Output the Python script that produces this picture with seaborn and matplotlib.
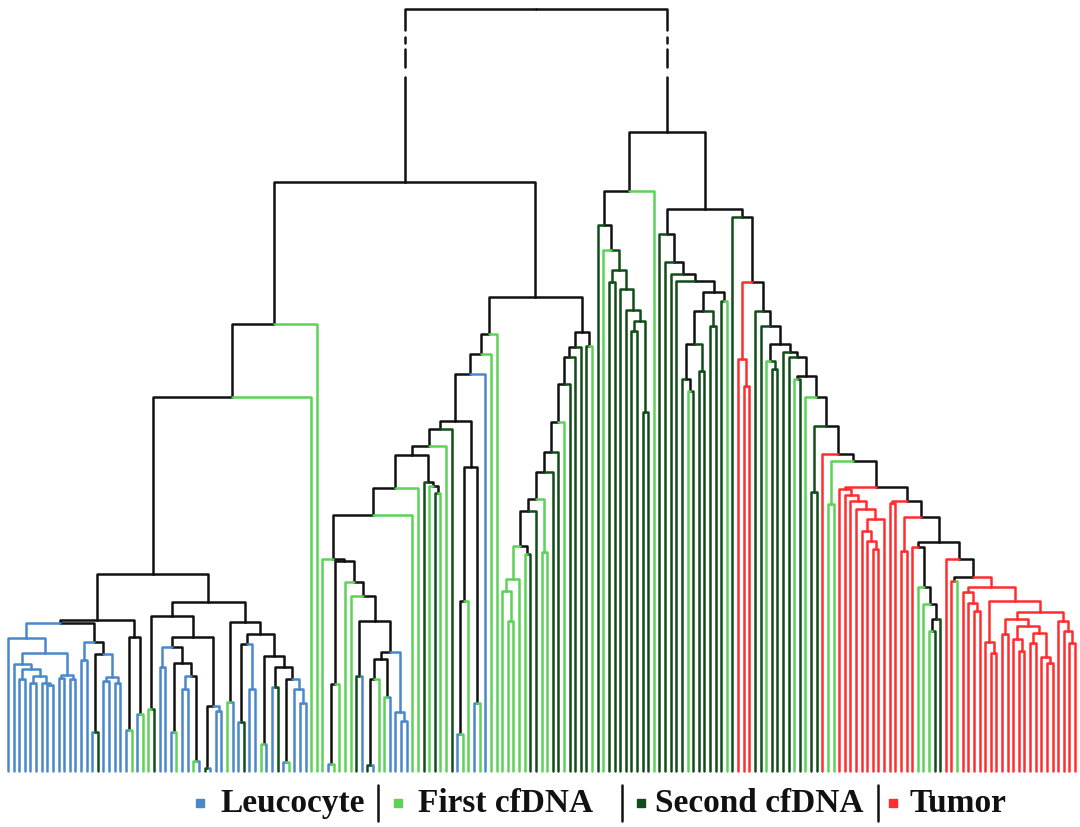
import matplotlib
matplotlib.use('Agg')
import matplotlib.pyplot as plt
import pandas as pd
import seaborn as sns
from matplotlib.lines import Line2D

# leaf classes: L = Leucocyte, F = First cfDNA, S = Second cfDNA, T = Tumor
# internal node = [height, left, right]; heights (pixels above the leaves)

leuco_b1 = [133, 'L', [118, [107, 'L', [102, [92, 'L', 'L'], [95, [88, 'L', 'L'], [88, 'L', [86, 'L', 'L']]]]],
                       [96, [93, 'L', 'L'], [92, 'L', 'L']]]]
leuco_a = [151, [148, leuco_b1, [129, [111, 'L', 'L'], [117, [39, 'L', 'S'], [94, [90, 'L', 'L'], [88, 'L', 'L']]]]],
           [134, [41, 'L', 'F'], [57, 'L', 'F']]]
leuco_b = [169,
           [155, [62, 'F', 'S'],
            [134, [124, [104, 'L', 'L'], [108, [39, 'L', 'F'], [95, [82, 'L', 'L'], [10, 'F', 'L']]]],
             [65, [3, 'S', 'L'], [60, 'L', 'L']]]],
           [149, [69, 'F', 'L'],
            [137, [127, [49, 'L', 'S'], [82, 'L', 'L']],
             [115, [27, 'F', 'L'], [104, [84, 'L', 'S'], [92, [9, 'L', 'F'], [82, 'L', [68, 'L', 'L']]]]]]]]
leuco = [197, leuco_a, leuco_b]

mid_j = [112, [92, [6, 'S', 'L'], 'F'], [74, 'F', 'L']]
mid_g = [150, [95, 'S', 'L'], [119, mid_j, [59, 'L', [50, 'L', 'L']]]]
mid_a = [212, 'F', [210, [87, [7, 'L', 'F'], 'F'], [189, 'F', [175, 'F', mid_g]]]]
mid_m8 = [283, [256, mid_a, 'F'], 'F']
mid_m9 = [289, 'S', [285, 'F', [278, 'S', 'F']]]
mid_m5 = [304, [170, [37, 'L', 'F'], 'F'], [68, 'L', 'F']]
mid = [437, [417, [397, [350, [342, [325, [316, mid_m8, mid_m9], 'F'], 'S'], mid_m5], 'L'], 'F'], 'F']

ladder = [439, [424, [414, [387, [349, [319, [299, [272, [260, [225, [192, [180, 'F', [150, 'F', 'F']], 'F'],
                                                                   [217, 'F', 'S']], 'S'], [219, 'F', 'F']],
                                                 'S'], 'S'], 'F'], 'S'], 'S'], 'S'], [425, 'S', 'F']]

right_a = [580, [546, 'S', [521, 'F', [501, [489, 'S', 'S'],
                                       [482, 'S', [461, 'S', [450, [440, 'S', 'S'], [359, 'S', 'S']]]]]]], 'F']
right_b1 = [537, 'S', [509, 'S', [497, 'S', [490, 'S', [479, [460, [427, [392, 'S', [380, 'F', 'S']], [400, 'S', 'S']],
                                                                [445, 'S', 'S']], [470, 'S', 'F']]]]]]

tumor_a = [282, 'T', [276, 'T', [270, 'T', [262, 'T', [252, [240, 'T', [230, 'T', [222, 'T', 'T']]], 'T']]]]]
mixed_g = [224, 'T', [184, 'F', [167, 'F', [152, [140, 'F', 'S'], 'S']]]]
tumor_b = [184, [179, 'T', [168, 'T', [160, 'T', 'T']]],
           [170, [129, 'T', [118, 'T', 'T']],
            [159, [152, [137, 'T', 'T'], [145, [132, 'T', [120, 'T', 'T']],
                                         [138, [128, 'T', 'T'], [114, 'T', [108, 'T', 'T']]]]],
             [150, 'T', [140, 'T', [128, 'T', 'T']]]]]]

# right-hand staircase: (merge height, branch that joins on the left)
stair_heights = [554, 489, 460, 445, 427, 419, 414, 395, 374, 345, 317, 310, 284, 270, 254, 229, 212, 194]
stair_branches = ['S', [412, 'T', [385, 'T', 'T']], 'S', 'S', [410, 'F', [402, 'S', 'S']], 'S', 'S',
                  [392, 'F', 'S'], 'F', [279, 'S', 'S'], 'T', [267, 'F', 'F'], tumor_a, [268, 'T', 'T'],
                  [220, 'T', 'T'], mixed_g, 'T', [190, 'T', 'F']]

right_b2 = tumor_b
for h, br in zip(reversed(stair_heights), reversed(stair_branches)):
    right_b2 = [h, br, right_b2]

root_height = 762
tree_data = [root_height,
             [589, [447, [374, leuco, 'F'], 'F'], [474, mid, ladder]],
             [639, right_a, [562, right_b1, right_b2]]]

legend_keys = ['L', 'F', 'S', 'T']
legend_labels = ['Leucocyte', 'First cfDNA', 'Second cfDNA', 'Tumor']
palette = {'L': '#4a88cc', 'F': '#5cd356', 'S': '#114d18', 'T': '#ff2e2e', 'mixed': '#111111'}


def layout(node, counter):
    if isinstance(node, str):
        x = counter[0]
        counter[0] += 1
        return {'x': x, 'h': 0, 'cls': node, 'kids': []}
    h, a, b = node
    ka = layout(a, counter)
    kb = layout(b, counter)
    cls = ka['cls'] if ka['cls'] == kb['cls'] else None
    return {'x': (ka['x'] + kb['x']) / 2, 'h': h, 'cls': cls, 'kids': [ka, kb]}


counter = [0]
tree = layout(tree_data, counter)
n_leaves = counter[0]

# broken root legs (pixel heights of the gaps)
break_top, break_bot = 741, 694
dash_pieces = [(734, 728), (722, 704)]

rows = []
uid = 0


def collect(node):
    global uid
    for k in node['kids']:
        grp = k['cls'] or 'mixed'
        if node is tree:
            pts = [(node['x'], node['h']), (k['x'], node['h']), (k['x'], break_top)]
            for x, h in pts:
                rows.append((uid, x, h, grp))
            uid += 1
            for top, bot in dash_pieces + [(break_bot, k['h'])]:
                rows.append((uid, k['x'], top, grp))
                rows.append((uid, k['x'], bot, grp))
                uid += 1
        else:
            for x, h in [(node['x'], node['h']), (k['x'], node['h']), (k['x'], k['h'])]:
                rows.append((uid, x, h, grp))
            uid += 1
        collect(k)


collect(tree)
df = pd.DataFrame(rows, columns=['edge', 'x', 'h', 'group'])

sns.set_theme(style='white')
plt.rcParams['font.family'] = ['Liberation Serif', 'DejaVu Serif']

fig = plt.figure(figsize=(10.8, 8.28), dpi=100)
ax = fig.add_axes([0, 0, 1, 1])
sns.lineplot(data=df, x='x', y='h', units='edge', estimator=None, sort=False, hue='group',
             palette=palette, linewidth=1.8, legend=False, ax=ax)

step = (1075 - 8) / (n_leaves - 1)
x0 = -8 / step
ax.set_xlim(x0, x0 + 1080 / step)
ax.set_ylim(-56, 772)
ax.axis('off')

# legend row under the leaves
label_px = [220, 418, 655, 910]
square_px = [200, 398, 641, 893]
sep_px = [378, 622, 878]
ly = 1 - 804 / 828
for key, lab, lx, sx in zip(legend_keys, legend_labels, label_px, square_px):
    fig.add_artist(Line2D([sx / 1080], [ly], marker='s', markersize=5.5, color=palette[key],
                          linestyle='none', transform=fig.transFigure))
    fig.text(lx / 1080, ly, lab, fontsize=24, fontweight='bold', va='center', ha='left', color='#111111')
for sx in sep_px:
    fig.add_artist(Line2D([sx / 1080, sx / 1080], [1 - 786 / 828, 1 - 822 / 828], color='#111111',
                          linewidth=1.8, transform=fig.transFigure))

fig.savefig('out.png', dpi=100)
